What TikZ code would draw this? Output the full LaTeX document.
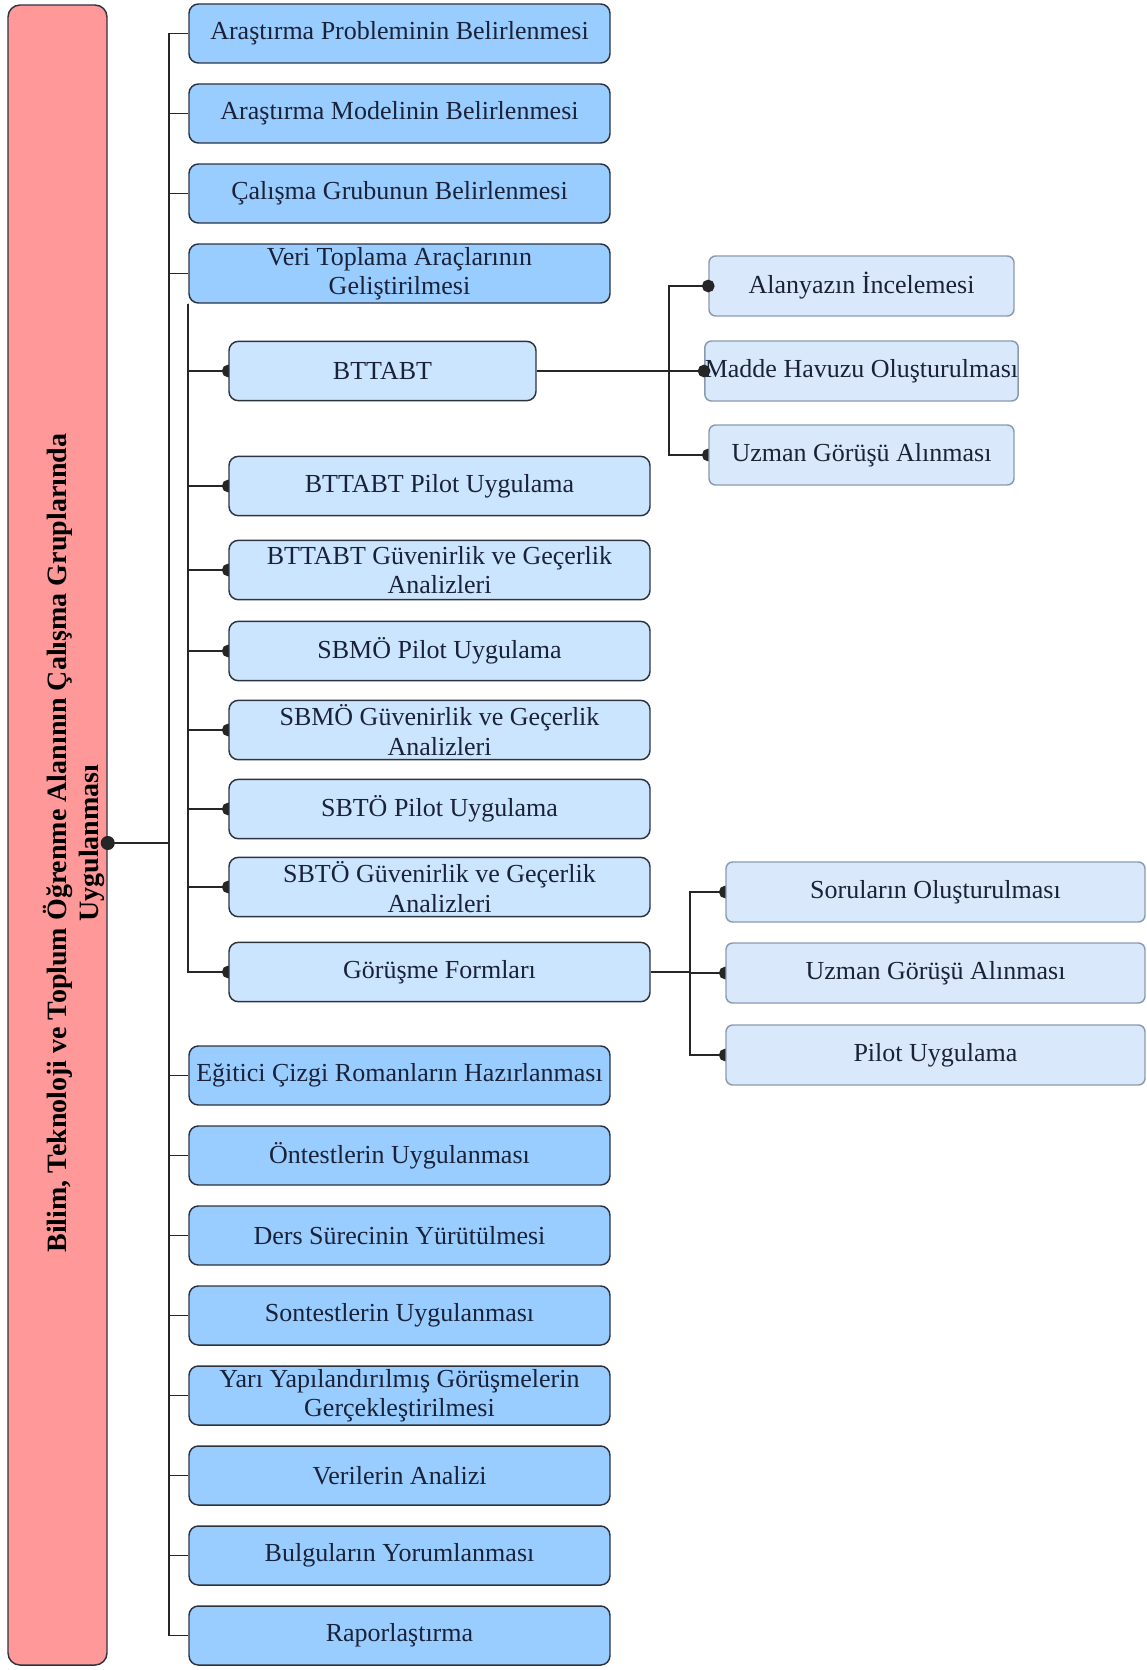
\documentclass[tikz,border=0pt]{standalone}
\usepackage{fontspec}
\setmainfont{Liberation Serif}
\usetikzlibrary{arrows.meta}
\definecolor{mainblue}{HTML}{99CCFF}
\definecolor{subblue}{HTML}{CCE5FF}
\definecolor{leafblue}{HTML}{DAE8FC}
\definecolor{rootred}{HTML}{FF9999}
\definecolor{edgedark}{HTML}{2E3340}
\definecolor{leafedge}{HTML}{8C9AAE}
\definecolor{txt}{HTML}{1A2238}
\pgfdeclarelayer{background}
\pgfsetlayers{background,main}
\tikzset{
  mainbox/.style={draw=edgedark, fill=mainblue, rounded corners=7pt, line width=1.1pt,
    minimum width=315.75pt, minimum height=44.25pt, inner sep=0pt, align=center,
    text=txt, font=\fontsize{19.5}{22}\selectfont},
  subbox/.style={mainbox, fill=subblue, minimum height=44.5pt},
  leafbox/.style={mainbox, draw=leafedge, fill=leafblue, rounded corners=5pt, minimum height=45pt},
  link/.style={line width=1.4pt, draw=black!85},
  dotend/.style={link, -{Circle[length=9.5pt]}, shorten >=-4.75pt},
}
\begin{document}
\begin{tikzpicture}[x=0.75pt,y=-0.75pt]
 \useasboundingbox (0,0) rectangle (1146,1670);
 % root (rotated title)
 \node[draw=edgedark, fill=rootred, rounded corners=9pt, line width=1.1pt,
   minimum width=74.25pt, minimum height=1245pt] (root) at (57.5,835) {};
 \node[rotate=90, align=center, font=\bfseries\fontsize{21}{24}\selectfont] (title) at (74,843)
   {Bilim, Teknoloji ve Toplum Öğrenme Alanının Çalışma Gruplarında\\Uygulanması};
 % main steps
 \foreach \y/\lab [count=\i] in {%
   33.5/{Araştırma Probleminin Belirlenmesi},
   113.5/{Araştırma Modelinin Belirlenmesi},
   193.5/{Çalışma Grubunun Belirlenmesi},
   273.5/{Veri Toplama Araçlarının\\Geliştirilmesi},
   1075.5/{Eğitici Çizgi Romanların Hazırlanması},
   1155.5/{Öntestlerin Uygulanması},
   1235.5/{Ders Sürecinin Yürütülmesi},
   1315.5/{Sontestlerin Uygulanması},
   1395.5/{Yarı Yapılandırılmış Görüşmelerin\\Gerçekleştirilmesi},
   1475.5/{Verilerin Analizi},
   1555.5/{Bulguların Yorumlanması},
   1635.5/{Raporlaştırma}}
 {
   \node[mainbox] (m\i) at (399.5,\y) {\lab};
 }
 % data collection tools
 \node[subbox, minimum width=230.25pt] (s1) at (382.5,371) {BTTABT};
 \foreach \y/\lab [count=\i from 2] in {%
   486/{BTTABT Pilot Uygulama},
   570/{BTTABT Güvenirlik ve Geçerlik\\Analizleri},
   651/{SBMÖ Pilot Uygulama},
   730/{SBMÖ Güvenirlik ve Geçerlik\\Analizleri},
   809/{SBTÖ Pilot Uygulama},
   887/{SBTÖ Güvenirlik ve Geçerlik\\Analizleri},
   972/{Görüşme Formları}}
 {
   \node[subbox] (s\i) at (439.5,\y) {\lab};
 }
 % BTTABT steps
 \node[leafbox, minimum width=228.75pt] (r1) at (861.5,286) {Alanyazın İncelemesi};
 \node[leafbox, minimum width=228.75pt] (r2) at (861.5,371) {Madde Havuzu Oluşturulması};
 \node[leafbox, minimum width=228.75pt] (r3) at (861.5,455) {Uzman Görüşü Alınması};
 % interview form steps
 \node[leafbox, minimum width=314.25pt] (g1) at (935.5,892) {Soruların Oluşturulması};
 \node[leafbox, minimum width=314.25pt] (g2) at (935.5,973) {Uzman Görüşü Alınması};
 \node[leafbox, minimum width=314.25pt] (g3) at (935.5,1055) {Pilot Uygulama};

 \coordinate (mj) at (169,843);
 \coordinate (bj) at (669,371);
 \coordinate (gj) at (690,972);
 \draw[link, {Circle[length=10.5pt]}-, shorten <=-5.25pt] (mj -| root.east) -- (mj);
 \foreach \i in {1,...,12}
   \draw[link] (mj) |- (m\i.west);
 \begin{pgfonlayer}{background}
   \foreach \i in {1,...,8}
     \draw[dotend] (m4.south west) |- (s\i.west);
   \draw[dotend] (bj) |- (r3.west);
   \draw[link] (s8.east) -- (gj);
   \foreach \i in {1,2,3}
     \draw[dotend] (gj) |- (g\i.west);
 \end{pgfonlayer}
 \draw[link] (s1.east) -- (bj);
 \draw[dotend] (bj) |- (r1.west);
 \draw[dotend] (bj) |- (r2.west);
\end{tikzpicture}
\end{document}
